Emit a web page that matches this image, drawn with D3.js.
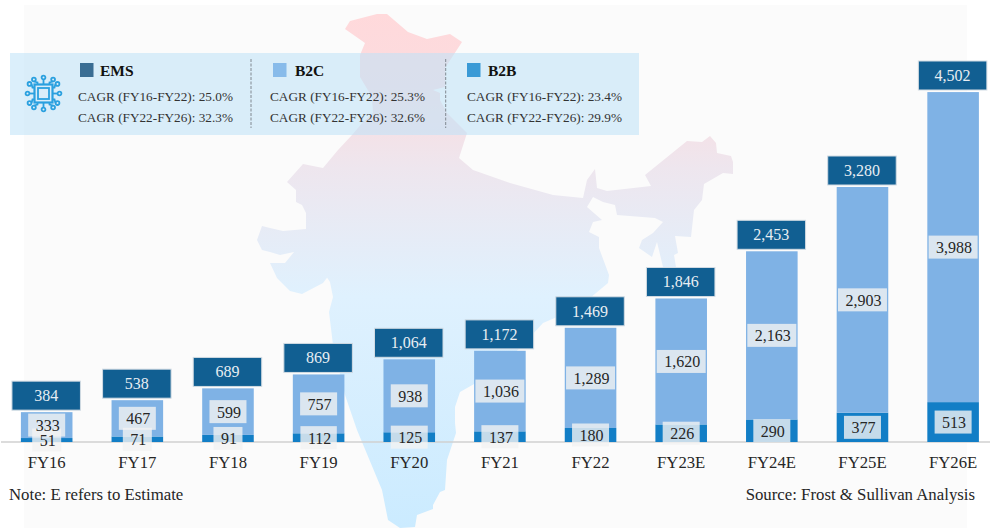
<!DOCTYPE html>
<html>
<head>
<meta charset="utf-8">
<script src="https://cdn.jsdelivr.net/npm/d3@7"></script>
<style>
  html, body { margin: 0; padding: 0; background: #fff; }
  svg { display: block; }
  text { font-family: "Liberation Serif", serif; }
</style>
</head>
<body>
<div id="chart"></div>
<script>
var w = 990,
    h = 528,
    base_y = 442,
    top_y = 92;

var categories = ['FY16', 'FY17', 'FY18', 'FY19', 'FY20', 'FY21', 'FY22', 'FY23E', 'FY24E', 'FY25E', 'FY26E'];
var ems = [384, 538, 689, 869, 1064, 1172, 1469, 1846, 2453, 3280, 4502];
var b2c = [333, 467, 599, 757, 938, 1036, 1289, 1620, 2163, 2903, 3988];
var b2b = [51, 71, 91, 112, 125, 137, 180, 226, 290, 377, 513];

var legend_names = ['EMS', 'B2C', 'B2B'];
var cagr_early = ['25.0%', '25.3%', '23.4%'];
var cagr_late = ['32.3%', '32.6%', '29.9%'];

var note_text = 'Note: E refers to Estimate';
var source_text = 'Source: Frost & Sullivan Analysis';

// faded India map behind the chart
var map_path = 'M345,29L350,21L377,14L387,14L408,32L427,39L450,34L462,42L445,68L445,87L433,90L440,93L440,100L447,113L467,133' +
    'L459,158L473,170L510,183L553,195L583,198L587,180L595,169L597,188L607,191L651,186L645,175L687,141L702,142L710,136L716,143' +
    'L717,153L731,156L733,162L733,174L723,173L704,184L702,200L694,210L691,237L675,236L678,253L674,255L676,267L663,267L657,242' +
    'L652,257L639,248L642,240L653,233L663,222L655,218L617,215L615,205L603,202L593,197L587,207L602,220L593,222L589,232L599,237' +
    'L599,248L609,275L608,283L590,298L557,317L543,323L520,348L490,375L460,392L455,407L455,423L456,433L447,460L445,490L440,492' +
    'L433,505L433,509L417,515L415,527L400,528L388,520L382,490L357,430L345,395L333,345L329,312L333,297L330,282L324,273L326,268' +
    'L333,270L323,283L302,294L290,291L277,278L270,263L285,263L294,252L280,255L270,252L262,250L257,240L262,226L270,228L283,231' +
    'L306,229L306,213L302,205L296,202L296,190L287,182L303,164L323,168L338,150L352,135L363,122L373,113L372,97L360,77L360,55L365,43Z';

var svg = d3.select('#chart')
    .append('svg')
    .attr('width', w)
    .attr('height', h);

var grad = svg.append('defs').append('linearGradient')
    .attr('id', 'map_fill')
    .attr('gradientUnits', 'userSpaceOnUse')
    .attr('x1', 0).attr('x2', 0)
    .attr('y1', 14).attr('y2', 528);
grad.selectAll('stop')
    .data([[0, '#ffd9db'], [0.14, '#fbdcdf'], [0.3, '#eee6ee'], [0.55, '#dff1fe'], [1, '#cbebff']])
  .enter().append('stop')
    .attr('offset', function(d){ return d[0]; })
    .attr('stop-color', function(d){ return d[1]; });

// background
svg.append('rect')
    .attr('x', 24).attr('y', 5)
    .attr('width', 943).attr('height', h - 5)
    .attr('fill', '#fbfbfb');
svg.append('path')
    .attr('d', map_path)
    .attr('fill', 'url(#map_fill)');

// scales
var x = d3.scaleBand()
    .domain(categories)
    .range([20.9, 978.9])
    .paddingInner(0.431)
    .paddingOuter(0);
var y = d3.scaleLinear()
    .domain([0, d3.max(ems)])
    .range([base_y, top_y]);

var rows = categories.map(function(c, i){
    return {cat: c, b2b: b2b[i], b2c: b2c[i], total: ems[i]};
});
var stacked = d3.stack().keys(['b2b', 'b2c'])(rows);
var bar_color = {b2b: '#127ec6', b2c: '#7fb2e5'};

// baseline and category labels
var axis = svg.append('g')
    .attr('transform', 'translate(0,' + base_y + ')')
    .call(d3.axisBottom(x).tickSize(0).tickPadding(14));
axis.select('.domain').remove();
axis.selectAll('text')
    .attr('font-size', 16.7)
    .attr('font-family', '"Liberation Serif", serif')
    .attr('fill', '#262626');
svg.append('line')
    .attr('x1', 1).attr('x2', w)
    .attr('y1', base_y).attr('y2', base_y)
    .attr('stroke', '#d0d0d0')
    .attr('stroke-width', 1.5);

// stacked bars
svg.selectAll('g.layer')
    .data(stacked)
  .enter().append('g')
    .attr('class', 'layer')
    .attr('fill', function(d){ return bar_color[d.key]; })
  .selectAll('rect')
    .data(function(d){ return d; })
  .enter().append('rect')
    .attr('x', function(d){ return x(d.data.cat); })
    .attr('y', function(d){ return y(d[1]); })
    .attr('width', x.bandwidth())
    .attr('height', function(d){ return y(d[0]) - y(d[1]); });

// segment labels, the box follows the text width
// all boxes go under all texts, on the short bars they run into each other
var label_boxes = svg.append('g');
var label_texts = svg.append('g');

function seg_pos(d){
    return 'translate(' + (x(d.data.cat) + x.bandwidth() / 2) + ',' + ((y(d[0]) + y(d[1])) / 2) + ')';
}

stacked.slice().reverse().forEach(function(layer){
    var labels = label_texts.selectAll('text.label_' + layer.key)
        .data(layer)
      .enter().append('text')
        .attr('class', 'label_' + layer.key)
        .attr('transform', seg_pos)
        .attr('text-anchor', 'middle')
        .attr('x', 1)
        .attr('y', 6)
        .attr('font-size', 16)
        .attr('fill', '#262626')
        .text(function(d){ return d3.format(',')(d[1] - d[0]); });
    label_boxes.selectAll('rect.box_' + layer.key)
        .data(layer)
      .enter().append('rect')
        .attr('class', 'box_' + layer.key)
        .attr('transform', seg_pos)
        .attr('x', function(d, i){ return -(labels.nodes()[i].getComputedTextLength() + 13) / 2; })
        .attr('y', -11.5)
        .attr('width', function(d, i){ return labels.nodes()[i].getComputedTextLength() + 13; })
        .attr('height', 23)
        .attr('fill', '#f2f2f2')
        .attr('opacity', 0.8);
});

// total boxes
var totals = svg.selectAll('g.total')
    .data(rows)
  .enter().append('g')
    .attr('class', 'total')
    .attr('transform', function(d){
        return 'translate(' + (x(d.cat) + x.bandwidth() / 2 - 0.5) + ',' + y(d.total) + ')';
    });
totals.append('rect')
    .attr('x', -34.25)
    .attr('y', -31)
    .attr('width', 68.5)
    .attr('height', 29)
    .attr('fill', '#115f92')
    .attr('stroke', '#d2dbe3')
    .attr('stroke-width', 1);
totals.append('text')
    .attr('text-anchor', 'middle')
    .attr('y', -11)
    .attr('font-size', 16)
    .attr('fill', '#e8eef3')
    .text(function(d){ return d3.format(',')(d.total); });

// legend panel
svg.append('rect')
    .attr('x', 10).attr('y', 53)
    .attr('width', 629).attr('height', 82)
    .attr('fill', 'rgb(190,226,248)')
    .attr('opacity', 0.55);

var swatch_color = ['#3a6d93', '#88bbea', '#3a9ad6'];
var swatch_x = [80, 273, 467];
var title_x = [100, 295, 488];
var cagr_x = [78, 270, 467];

legend_names.forEach(function(name, i){
    svg.append('rect')
        .attr('x', swatch_x[i]).attr('y', 63)
        .attr('width', 13.5).attr('height', 14)
        .attr('fill', swatch_color[i]);
    svg.append('text')
        .attr('x', title_x[i]).attr('y', 76)
        .attr('font-size', 15.5)
        .attr('font-weight', 'bold')
        .attr('fill', '#111')
        .text(name);
    svg.append('text')
        .attr('x', cagr_x[i]).attr('y', 100.5)
        .attr('font-size', 13.25)
        .attr('fill', '#333')
        .text('CAGR (FY16-FY22): ' + cagr_early[i]);
    svg.append('text')
        .attr('x', cagr_x[i]).attr('y', 121.5)
        .attr('font-size', 13.25)
        .attr('fill', '#333')
        .text('CAGR (FY22-FY26): ' + cagr_late[i]);
});

svg.selectAll('line.sep')
    .data([251, 445.7])
  .enter().append('line')
    .attr('class', 'sep')
    .attr('x1', function(d){ return d; })
    .attr('x2', function(d){ return d; })
    .attr('y1', 59).attr('y2', 128)
    .attr('stroke', '#808890')
    .attr('stroke-width', 1)
    .attr('stroke-dasharray', '3,1.5');

// chip icon
var chip = svg.append('g')
    .attr('transform', 'translate(43.5,93.5)')
    .attr('fill', 'none')
    .attr('stroke', '#2aa0df')
    .attr('stroke-width', 1.8);
chip.append('rect').attr('x', -9).attr('y', -9).attr('width', 18).attr('height', 18).attr('stroke-width', 2.2);
chip.append('rect').attr('x', -5.5).attr('y', -5.5).attr('width', 11).attr('height', 11);
[0, 90, 180, 270].forEach(function(a){
    var side = chip.append('g').attr('transform', 'rotate(' + a + ')');
    [-6, 0, 6].forEach(function(p, i){
        var len = i == 1 ? 14 : 12;
        var bend = i == 1 ? 0 : p * 1.6;
        side.append('path')
            .attr('d', 'M' + p + ',-9L' + p + ',-' + (len - 1) + 'L' + bend + ',-' + len);
        side.append('circle')
            .attr('cx', bend)
            .attr('cy', -len - 2)
            .attr('r', 1.9);
    });
});

// footnotes
svg.append('text')
    .attr('x', 9).attr('y', 500)
    .attr('font-size', 16.8)
    .attr('fill', '#262626')
    .text(note_text);
svg.append('text')
    .attr('x', 975).attr('y', 500)
    .attr('text-anchor', 'end')
    .attr('font-size', 16.8)
    .attr('fill', '#262626')
    .text(source_text);
</script>
</body>
</html>
